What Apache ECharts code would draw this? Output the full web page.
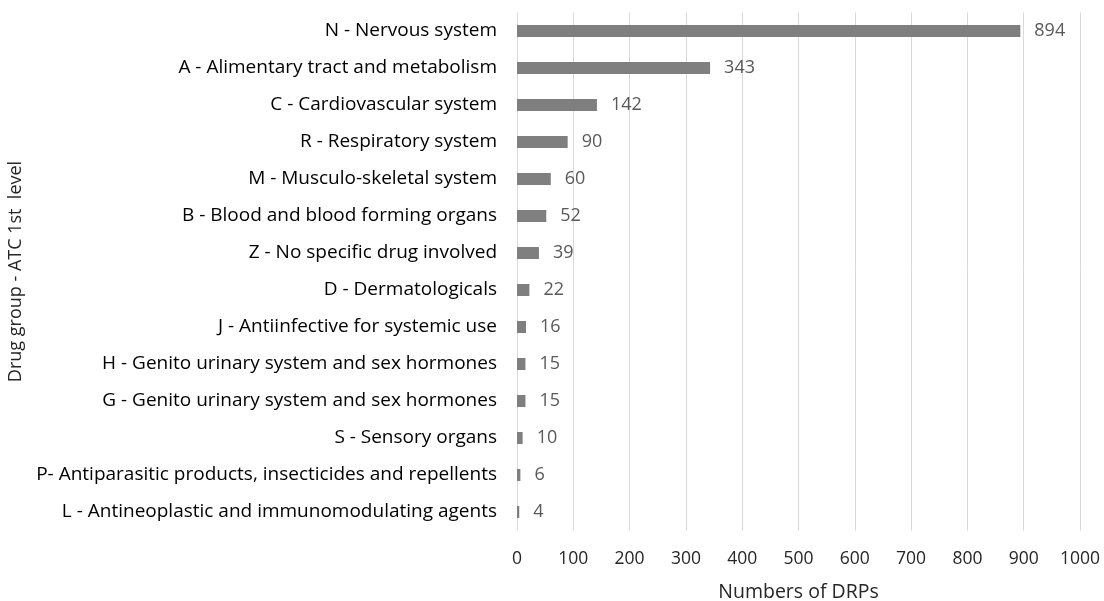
<!DOCTYPE html>
<html><head><meta charset="utf-8">
<script src="https://cdn.jsdelivr.net/npm/echarts@6/dist/echarts.min.js"></script>
<style>html,body{margin:0;padding:0;background:#fff}#c{width:1104px;height:601px}</style>
</head><body><div id="c"></div>
<script>
const categories = [
  "N - Nervous system",
  "A - Alimentary tract and metabolism",
  "C - Cardiovascular system",
  "R - Respiratory system",
  "M - Musculo-skeletal system",
  "B - Blood and blood forming organs",
  "Z - No specific drug involved",
  "D - Dermatologicals",
  "J - Antiinfective for systemic use",
  "H - Genito urinary system and sex hormones",
  "G - Genito urinary system and sex hormones",
  "S - Sensory organs",
  "P- Antiparasitic products, insecticides and repellents",
  "L - Antineoplastic and immunomodulating agents"
];
const values = [894, 343, 142, 90, 60, 52, 39, 22, 16, 15, 15, 10, 6, 4];
const xTicks = [0, 100, 200, 300, 400, 500, 600, 700, 800, 900, 1000];

const font = "'Open Sans', sans-serif";
const chart = echarts.init(document.getElementById('c'));
chart.setOption({
  animation: false,
  grid: {left: 517, right: 24, top: 12.5, bottom: 70.5, containLabel: false, outerBoundsMode: 'none'},
  xAxis: {
    type: 'value', min: xTicks[0], max: xTicks[xTicks.length-1], interval: 100,
    name: 'Numbers of DRPs', nameLocation: 'middle', nameGap: 52,
    nameTextStyle: {fontFamily: font, fontSize: 19.5, color: '#262626'},
    axisLine: {show: false}, axisTick: {show: false},
    axisLabel: {fontFamily: font, fontSize: 17.5, color: '#262626', margin: 20,
      formatter: v => String(v)},
    splitLine: {lineStyle: {color: '#d9d9d9', width: 1}}
  },
  yAxis: {
    type: 'category', data: categories, inverse: true,
    name: 'Drug group - ATC 1st  level', nameLocation: 'middle', nameGap: 483,
    nameRotate: 90,
    nameTextStyle: {fontFamily: font, fontSize: 18, color: '#262626'},
    axisLine: {show: false}, axisTick: {show: false},
    axisLabel: {fontFamily: font, fontSize: 19, color: '#000', margin: 20}
  },
  series: [{
    type: 'bar', data: values, barWidth: 12,
    itemStyle: {color: '#7f7f7f'},
    label: {show: true, position: 'right', distance: 14, fontFamily: font, fontSize: 18, color: '#595959'}
  }]
});
</script></body></html>
